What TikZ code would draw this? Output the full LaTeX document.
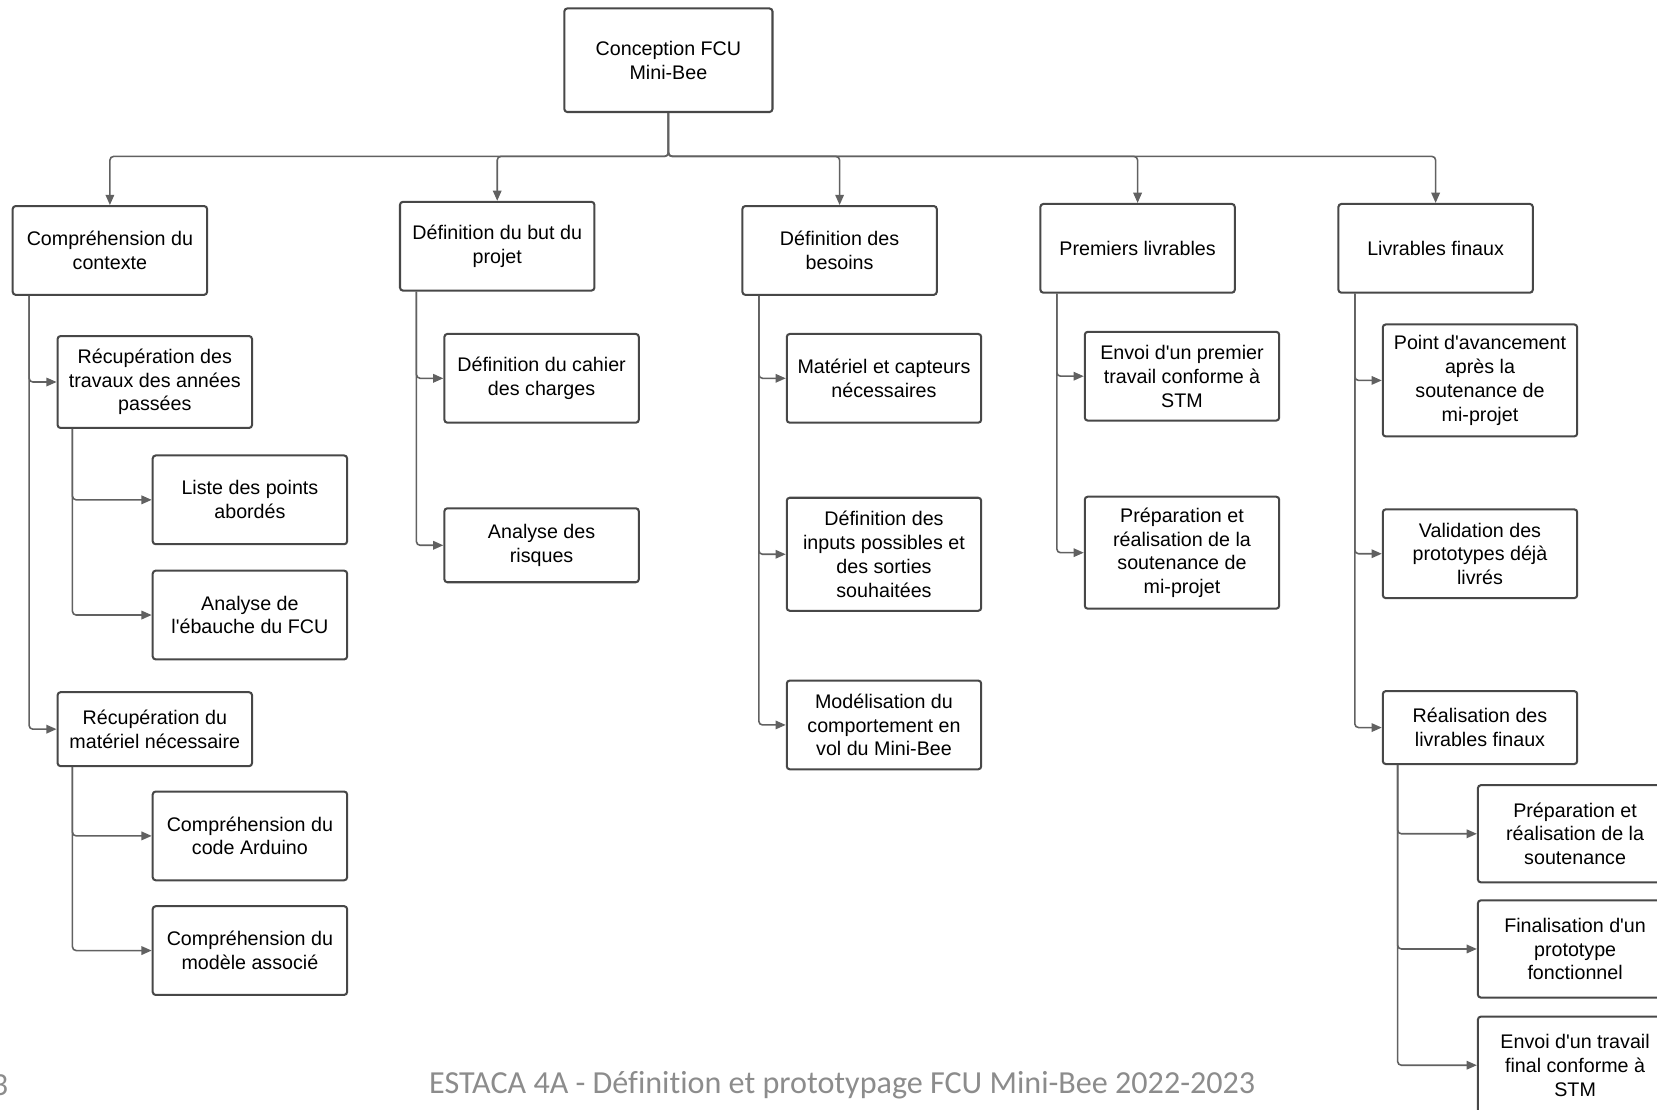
\documentclass[tikz,border=0pt]{standalone}
\usepackage{fontspec}
\setmainfont{Liberation Sans}[Ligatures=TeXOff]
\newfontfamily\footfont{Carlito}[Ligatures={NoCommon,TeXOff}]
\usetikzlibrary{arrows.meta,calc}
\newcommand{\boxfont}{\fontsize{10.6}{12.8}\selectfont}
\begin{document}
\begin{tikzpicture}[x=0.02cm,y=-0.02cm,
  box/.style={draw=black!72, line width=1.1pt, rounded corners=1.6pt, fill=white,
    align=center, minimum width=3.68cm, inner sep=2pt, font=\boxfont, text=black},
  conn/.style={draw=black!62, line width=0.85pt, rounded corners=2pt,
    -{Triangle[length=5.5pt,width=4.6pt]}},
  foot/.style={font=\footfont\fontsize{17.3}{19}\selectfont, text=black!45}]
\useasboundingbox (0,0) rectangle (1568,1050);
\clip (0,0) rectangle (1568,1050);
% boxes
\node[box, minimum width=3.94cm, minimum height=1.96cm] (root) at (632.5,57) {Conception FCU\\Mini-Bee};
\node[box, minimum height=1.68cm] (A) at (104,237) {Compréhension du\\contexte};
\node[box, minimum height=1.68cm] (B) at (470.5,233) {Définition du but du\\projet};
\node[box, minimum height=1.68cm] (C) at (794.5,237) {Définition des\\besoins};
\node[box, minimum height=1.68cm] (D) at (1076.5,235) {Premiers livrables};
\node[box, minimum height=1.68cm] (E) at (1358.5,235) {Livrables finaux};
\node[box, minimum height=1.74cm] (A1) at (146.5,361.5) {Récupération des\\travaux des années\\passées};
\node[box, minimum height=1.68cm] (A11) at (236.5,473) {Liste des points\\abordés};
\node[box, minimum height=1.68cm] (A12) at (236.5,582) {Analyse de\\l'ébauche du FCU};
\node[box, minimum height=1.40cm] (A2) at (146.5,690) {Récupération du\\matériel nécessaire};
\node[box, minimum height=1.68cm] (A21) at (236.5,791) {Compréhension du\\code Arduino};
\node[box, minimum height=1.68cm] (A22) at (236.5,899.5) {Compréhension du\\modèle associé};
\node[box, minimum height=1.68cm] (B1) at (512.5,358) {Définition du cahier\\des charges};
\node[box, minimum height=1.40cm] (B2) at (512.5,516) {Analyse des\\risques};
\node[box, minimum height=1.68cm] (C1) at (836.5,358) {Matériel et capteurs\\nécessaires};
\node[box, minimum height=2.14cm] (C2) at (836.5,524.5) {Définition des\\inputs possibles et\\des sorties\\souhaitées};
\node[box, minimum height=1.68cm] (C3) at (836.5,686) {Modélisation du\\comportement en\\vol du Mini-Bee};
\node[box, minimum height=1.68cm] (D1) at (1118.5,356) {Envoi d'un premier\\travail conforme à\\STM};
\node[box, minimum height=2.12cm] (D2) at (1118.5,523) {Préparation et\\réalisation de la\\soutenance de\\mi-projet};
\node[box, minimum height=2.12cm] (E1) at (1400.5,360) {Point d'avancement\\après la\\soutenance de\\mi-projet};
\node[box, minimum height=1.68cm] (E2) at (1400.5,524) {Validation des\\prototypes déjà\\livrés};
\node[box, minimum height=1.38cm] (E3) at (1400.5,688.5) {Réalisation des\\livrables finaux};
\node[box, minimum height=1.84cm] (E31) at (1490.5,789) {Préparation et\\réalisation de la\\soutenance};
\node[box, minimum height=1.84cm] (E32) at (1490.5,898) {Finalisation d'un\\prototype\\fonctionnel};
\node[box, minimum height=1.84cm] (E33) at (1490.5,1008) {Envoi d'un travail\\final conforme à\\STM};
% bus
\coordinate (bus) at (632.5,148);
\foreach \c in {A,B,C,D,E}{
  \draw[conn] (root.south) -- (root.south |- bus) -| (\c.north);
}
% children
\foreach \p/\c in {A/A1,A/A2,B/B1,B/B2,C/C1,C/C2,C/C3,D/D1,D/D2,E/E1,E/E2,E/E3}{
  \draw[conn] ($(\p.south west)+(16.5,0)$) |- (\c.west);
}
\foreach \p/\c in {A1/A11,A1/A12,A2/A21,A2/A22,E3/E31,E3/E32,E3/E33}{
  \draw[conn] ($(\p.south west)+(15,0)$) |- (\c.west);
}
% footer
\node[foot] (ft) at (797,1027) {ESTACA 4A - Définition et prototypage FCU Mini-Bee 2022-2023};
\node[foot, anchor=east, inner sep=0pt] (pg) at (8,1027) {3};
\end{tikzpicture}
\end{document}
